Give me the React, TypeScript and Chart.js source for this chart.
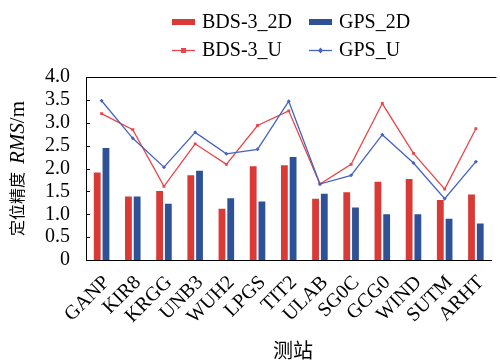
import React, { useEffect, useRef } from 'react';
import { Chart, registerables } from 'chart.js';

Chart.register(...registerables);

const categories = ['GANP', 'KIR8', 'KRGG', 'UNB3', 'WUH2', 'LPGS', 'TIT2', 'ULAB', 'SG0C', 'GCG0', 'WIND', 'SUTM', 'ARHT'];
const bds2D = [1.91, 1.39, 1.51, 1.85, 1.12, 2.05, 2.07, 1.34, 1.48, 1.71, 1.77, 1.31, 1.43];
const gps2D = [2.45, 1.39, 1.23, 1.95, 1.35, 1.28, 2.25, 1.45, 1.15, 1.0, 1.0, 0.9, 0.8];
const bdsU = [3.2, 2.85, 1.61, 2.54, 2.09, 2.94, 3.26, 1.66, 2.09, 3.42, 2.33, 1.55, 2.87];
const gpsU = [3.48, 2.66, 2.03, 2.79, 2.32, 2.42, 3.47, 1.66, 1.85, 2.74, 2.12, 1.34, 2.15];
const seriesNames = ['BDS-3_2D', 'GPS_2D', 'BDS-3_U', 'GPS_U'];
const yTitleParts = ['定位精度', 'RMS', '/m'];
const xTitle = '测站';

const SERIF = "'Liberation Serif', 'Times New Roman', 'Noto Sans CJK SC', serif";
const CJK = "'Noto Sans CJK SC', 'Liberation Serif', serif";

const RED_BAR = '#D93A35';
const BLUE_BAR = '#2F5198';
const RED_LINE = '#EC4448';
const BLUE_LINE = '#4562C2';

const decorPlugin = {
  id: 'decor',
  afterDraw(chart: any) {
    const ctx = chart.ctx;
    const a = chart.chartArea;
    ctx.save();
    ctx.strokeStyle = '#000';
    ctx.lineWidth = 1;
    ctx.beginPath();
    ctx.moveTo(a.left, a.top + 0.5);
    ctx.lineTo(a.right + 5, a.top + 0.5);
    ctx.stroke();
    const ys = chart.scales.y;
    ctx.beginPath();
    ys.ticks.forEach((t: any) => {
      const py = Math.round(ys.getPixelForValue(t.value)) + 0.5;
      ctx.moveTo(a.left, py);
      ctx.lineTo(a.left + 4, py);
    });
    ctx.stroke();

    ctx.translate(17, (a.top + a.bottom) / 2);
    ctx.rotate(-Math.PI / 2);
    ctx.fillStyle = '#000';
    ctx.textBaseline = 'middle';
    const f1 = '16px ' + CJK;
    const f2 = 'italic 21px ' + SERIF;
    const f3 = '21px ' + SERIF;
    ctx.font = f1;
    const w1 = ctx.measureText(yTitleParts[0]).width;
    ctx.font = f2;
    const w2 = ctx.measureText(yTitleParts[1]).width;
    ctx.font = f3;
    const w3 = ctx.measureText(yTitleParts[2]).width;
    const gap = 8;
    const total = w1 + gap + w2 + w3;
    let x = -total / 2;
    ctx.textAlign = 'left';
    ctx.font = f1;
    ctx.fillText(yTitleParts[0], x, 0);
    x += w1 + gap;
    ctx.font = f2;
    ctx.fillText(yTitleParts[1], x, 1);
    x += w2;
    ctx.font = f3;
    ctx.fillText(yTitleParts[2], x, 1);
    ctx.setTransform(1, 0, 0, 1, 0, 0);

    ctx.font = '20px ' + CJK;
    ctx.textAlign = 'center';
    ctx.textBaseline = 'middle';
    ctx.fillText(xTitle, 293, 350);

    const ds = chart.data.datasets;
    const cols = [172, 309];
    const rows = [22, 50];
    ctx.font = '20px ' + SERIF;
    ctx.textAlign = 'left';
    ds.forEach((d: any, i: number) => {
      const cx = cols[i % 2];
      const cy = rows[Math.floor(i / 2)];
      if (d.type === 'bar') {
        ctx.fillStyle = d.backgroundColor;
        ctx.fillRect(cx, cy - 3, 23, 6);
      } else {
        ctx.strokeStyle = d.borderColor;
        ctx.lineWidth = 1.3;
        ctx.beginPath();
        ctx.moveTo(cx, cy + 0.5);
        ctx.lineTo(cx + 23, cy + 0.5);
        ctx.stroke();
        ctx.fillStyle = d.borderColor;
        if (d.pointStyle === 'rect') {
          ctx.fillRect(cx + 9, cy - 2, 5, 5);
        } else {
          ctx.beginPath();
          ctx.moveTo(cx + 11.5, cy - 2.5);
          ctx.lineTo(cx + 14, cy + 0.5);
          ctx.lineTo(cx + 11.5, cy + 3.5);
          ctx.lineTo(cx + 9, cy + 0.5);
          ctx.closePath();
          ctx.fill();
        }
      }
      ctx.fillStyle = '#000';
      ctx.fillText(d.label, cx + 30, cy + 1);
    });
    ctx.restore();
  },
};

export default function App() {
  const ref = useRef<HTMLCanvasElement>(null);
  useEffect(() => {
    if (!ref.current) return;
    const chart = new Chart(ref.current, {
      type: 'bar',
      data: {
        labels: categories,
        datasets: [
          {
            type: 'bar',
            label: seriesNames[0],
            data: bds2D,
            backgroundColor: RED_BAR,
            categoryPercentage: 0.56,
            barPercentage: 0.78,
            order: 2,
          },
          {
            type: 'bar',
            label: seriesNames[1],
            data: gps2D,
            backgroundColor: BLUE_BAR,
            categoryPercentage: 0.56,
            barPercentage: 0.78,
            order: 2,
          },
          {
            type: 'line',
            label: seriesNames[2],
            data: bdsU,
            borderColor: RED_LINE,
            backgroundColor: RED_LINE,
            borderWidth: 1.3,
            pointStyle: 'rect',
            pointRadius: 2,
            pointBorderWidth: 0,
            tension: 0,
            order: 1,
          },
          {
            type: 'line',
            label: seriesNames[3],
            data: gpsU,
            borderColor: BLUE_LINE,
            backgroundColor: BLUE_LINE,
            borderWidth: 1.3,
            pointStyle: 'rectRot',
            pointRadius: 2,
            pointBorderWidth: 0,
            tension: 0,
            order: 0,
          },
        ] as any,
      },
      options: {
        animation: false,
        responsive: false,
        devicePixelRatio: 1,
        layout: { padding: { top: 77, left: 0, right: 0, bottom: 0 } },
        plugins: {
          legend: { display: false },
          tooltip: { enabled: false },
          title: { display: false },
        },
        scales: {
          x: {
            offset: true,
            grid: { display: false, drawTicks: false },
            border: { display: true, color: '#000', width: 1 },
            ticks: {
              color: '#000',
              font: { family: SERIF, size: 20 },
              minRotation: 45,
              maxRotation: 45,
              padding: 11,
              labelOffset: 5,
              autoSkip: false,
            },
            afterFit: (s: any) => {
              s.height = 101;
            },
          },
          y: {
            min: 0,
            max: 4,
            grid: { display: false, drawTicks: false },
            border: { display: true, color: '#000', width: 1 },
            ticks: {
              stepSize: 0.5,
              autoSkip: false,
              color: '#000',
              font: { family: SERIF, size: 20 },
              padding: 16,
              callback: (v: any) => (Number(v) === 0 ? '0' : Number(v).toFixed(1)),
            },
            afterFit: (s: any) => {
              s.width = 86;
            },
          },
        },
      },
      plugins: [decorPlugin],
    });
    return () => chart.destroy();
  }, []);
  return (
    <div style={{ position: 'absolute', left: 0, top: 0, width: 500, height: 361, overflow: 'hidden', background: '#fff' }}>
      <canvas ref={ref} width={504} height={361} style={{ display: 'block' }} />
    </div>
  );
}
